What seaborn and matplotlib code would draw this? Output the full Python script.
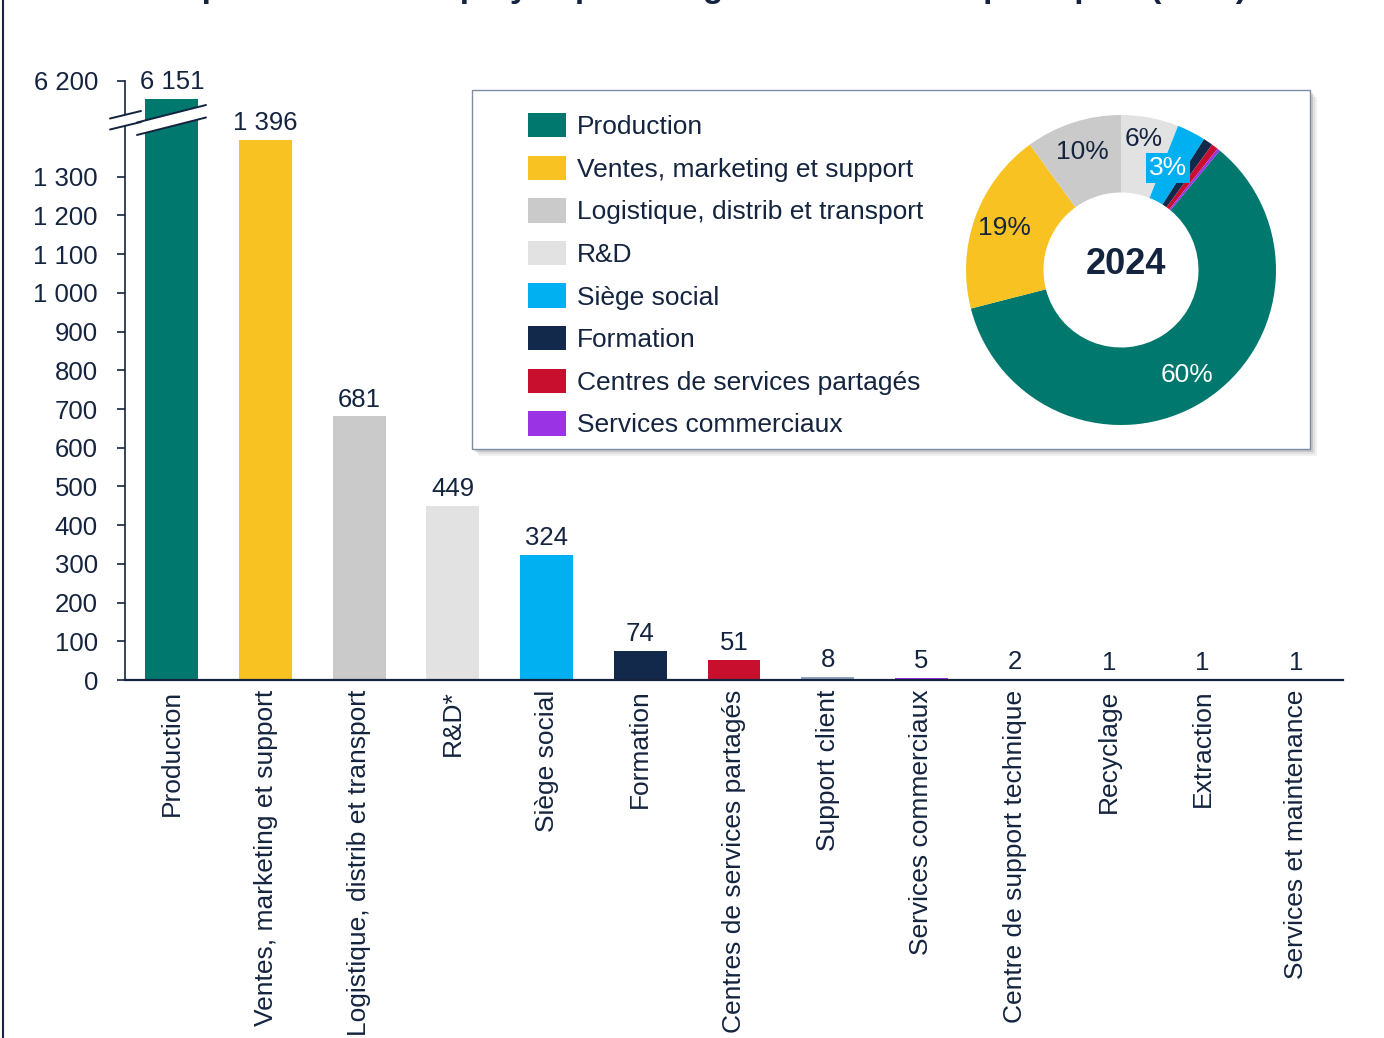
"""Bar chart with broken axis and donut of headcount by function (2024)."""

import matplotlib

matplotlib.use("Agg")
import matplotlib.pyplot as plt
import numpy as np
import seaborn as sns
from matplotlib.lines import Line2D
from matplotlib.patches import Patch, Polygon, Rectangle
from matplotlib.ticker import FixedLocator, FuncFormatter

# ---- data -----------------------------------------------------------------
categories = [
    "Production", "Ventes, marketing et support", "Logistique, distrib et transport",
    "R&D*", "Siège social", "Formation", "Centres de services partagés",
    "Support client", "Services commerciaux", "Centre de support technique",
    "Recyclage", "Extraction", "Services et maintenance",
]
headcount = [6151, 1396, 681, 449, 324, 74, 51, 8, 5, 2, 1, 1, 1]
bar_colors = [
    "#00786E", "#F8C322", "#CACACA", "#E2E2E2", "#00B0F0", "#13294B", "#C8102E",
    "#8EA1BE", "#9A33E3", "#1F3864", "#13294B", "#13294B", "#13294B",
]

legend_labels = [
    "Production", "Ventes, marketing et support", "Logistique, distrib et transport",
    "R&D", "Siège social", "Formation", "Centres de services partagés",
    "Services commerciaux",
]
legend_colors = ["#00786E", "#F8C322", "#CACACA", "#E2E2E2", "#00B0F0", "#13294B",
                 "#C8102E", "#9A33E3"]
pie_shares = [60, 19, 10, 6, 3, 1.0, 0.7, 0.3]
pie_year = "2024"

low_ticks = list(range(0, 1301, 100))
high_ticks = [6200]

title = "Répartition des employés par catégorie de fonction principale (2024)"

NAVY = "#14243F"
W, H = 1384, 1038


def fx(x):
    return x / W


def fy(y):
    return 1 - y / H


def thousands(v, _pos=None):
    return f"{int(round(v)):,}".replace(",", " ")


sns.set_theme(style="white")
plt.rcParams["font.family"] = ["Liberation Sans", "DejaVu Sans"]
plt.rcParams["text.color"] = NAVY
FS = 18.5
FS_CAT = 19

fig = plt.figure(figsize=(W / 100, H / 100), dpi=100)
ax_low = fig.add_axes([fx(125), fy(680), (1343 - 125) / W, (680 - 121) / H])
ax_top = fig.add_axes([fx(125), fy(121), (1343 - 125) / W, 40 / H])

for ax in (ax_low, ax_top):
    sns.barplot(x=categories, y=headcount, hue=categories, palette=bar_colors,
                legend=False, width=0.565, saturation=1, linewidth=0, ax=ax)
    ax.set_xlim(-0.5, len(categories) - 0.5)
    ax.set_xlabel("")
    ax.set_ylabel("")
    ax.set_facecolor("none")
    for side in ("top", "right"):
        ax.spines[side].set_visible(False)
    ax.spines["left"].set_color(NAVY)
    ax.spines["left"].set_linewidth(1.2)
    ax.tick_params(axis="y", direction="out", length=6, width=1.2, color=NAVY,
                   pad=13.5, labelsize=FS, labelcolor=NAVY, left=True)
    ax.yaxis.set_major_formatter(FuncFormatter(thousands))

ax_low.set_ylim(0, 1444)
ax_low.yaxis.set_major_locator(FixedLocator(low_ticks))
ax_low.spines["bottom"].set_color(NAVY)
ax_low.spines["bottom"].set_linewidth(1.6)
ax_low.set_xticks(range(len(categories)))
ax_low.set_xticklabels(categories, rotation=90)
ax_low.tick_params(axis="x", length=0, pad=7, labelsize=FS_CAT, labelcolor=NAVY)

ax_top.set_ylim(6092, 6200)
ax_top.yaxis.set_major_locator(FixedLocator(high_ticks))
ax_top.spines["bottom"].set_visible(False)
ax_top.set_xticks([])

for i, v in enumerate(headcount):
    target = ax_top if v > ax_low.get_ylim()[1] else ax_low
    target.bar_label(target.containers[i], labels=[thousands(v)], padding=3.5,
                     fontsize=FS, color=NAVY)

# axis break marks
for upper, lower in [
    (((110, 118.5), (141, 111)), ((110, 129.5), (141, 122))),
    (((137, 122.5), (206, 105)), ((137, 135), (206, 117.5))),
]:
    pts = [upper[0], upper[1], lower[1], lower[0]]
    fig.add_artist(Polygon([(fx(x), fy(y)) for x, y in pts], closed=True,
                           facecolor="white", edgecolor="none", zorder=3))
    for (x0, y0), (x1, y1) in (upper, lower):
        fig.add_artist(Line2D([fx(x0), fx(x1)], [fy(y0), fy(y1)], color=NAVY,
                              lw=1.4, zorder=4))

# legend box with soft shadow
for k, a in ((7, 0.10), (5, 0.15), (3, 0.25)):
    fig.add_artist(Rectangle((fx(472 + k), fy(449 + k)), 838 / W, 359 / H,
                             facecolor="#7F7F7F", alpha=a, edgecolor="none", zorder=3))
fig.add_artist(Rectangle((fx(472), fy(449)), 838 / W, 359 / H, facecolor="white",
                         edgecolor="#7D8CA3", lw=1.0, zorder=3))

handles = [Patch(facecolor=c, edgecolor="none", label=l)
           for c, l in zip(legend_colors, legend_labels)]
leg = fig.legend(handles=handles, loc="upper left", bbox_to_anchor=(fx(528), fy(113)),
                 frameon=False, fontsize=FS_CAT, handlelength=1.44, handleheight=1.05,
                 handletextpad=0.42, labelspacing=0.62, borderpad=0, borderaxespad=0,
                 labelcolor=NAVY)
leg.set_zorder(6)

# donut
ax_pie = fig.add_axes([fx(966), fy(425), 310 / W, 310 / H])
ax_pie.set_zorder(7)
start = 90 - 3.6 * sum(pie_shares[3:])
wedges, _, pcts = ax_pie.pie(
    pie_shares, colors=legend_colors, startangle=start, counterclock=False,
    radius=1, wedgeprops=dict(width=0.5, linewidth=0),
    autopct=lambda p: f"{p:.0f}%" if p >= 2.5 else "", pctdistance=0.8,
    textprops=dict(fontsize=FS_CAT, color=NAVY),
)
ax_pie.set_xlim(-1, 1)
ax_pie.set_ylim(-1, 1)
ax_pie.set_aspect("equal")
for w, t, share in zip(wedges, pcts, pie_shares):
    mid = np.deg2rad((w.theta1 + w.theta2) / 2)
    if share >= 50:
        t.set_color("white")
    elif share < 5:
        t.set_color("white")
        t.set_bbox(dict(facecolor=legend_colors[4], edgecolor="none", pad=2))
        t.set_position((0.735 * np.cos(mid + 0.05), 0.72 * np.sin(mid + 0.05)))
    elif share < 8:
        t.set_position((0.86 * np.cos(mid + 0.02), 0.86 * np.sin(mid + 0.02)))
ax_pie.text(0.03, 0.035, pie_year, ha="center", va="center", fontsize=26,
            fontweight="bold", color=NAVY)

# title (cropped by the top edge, as in the source) and left frame line
fig.text(0.508, fy(-3), title, ha="center", va="baseline", fontsize=24,
         fontweight="bold", color=NAVY)
fig.add_artist(Line2D([fx(3), fx(3)], [0, 1], color=NAVY, lw=1.5))

fig.savefig("out.png", dpi=100)
